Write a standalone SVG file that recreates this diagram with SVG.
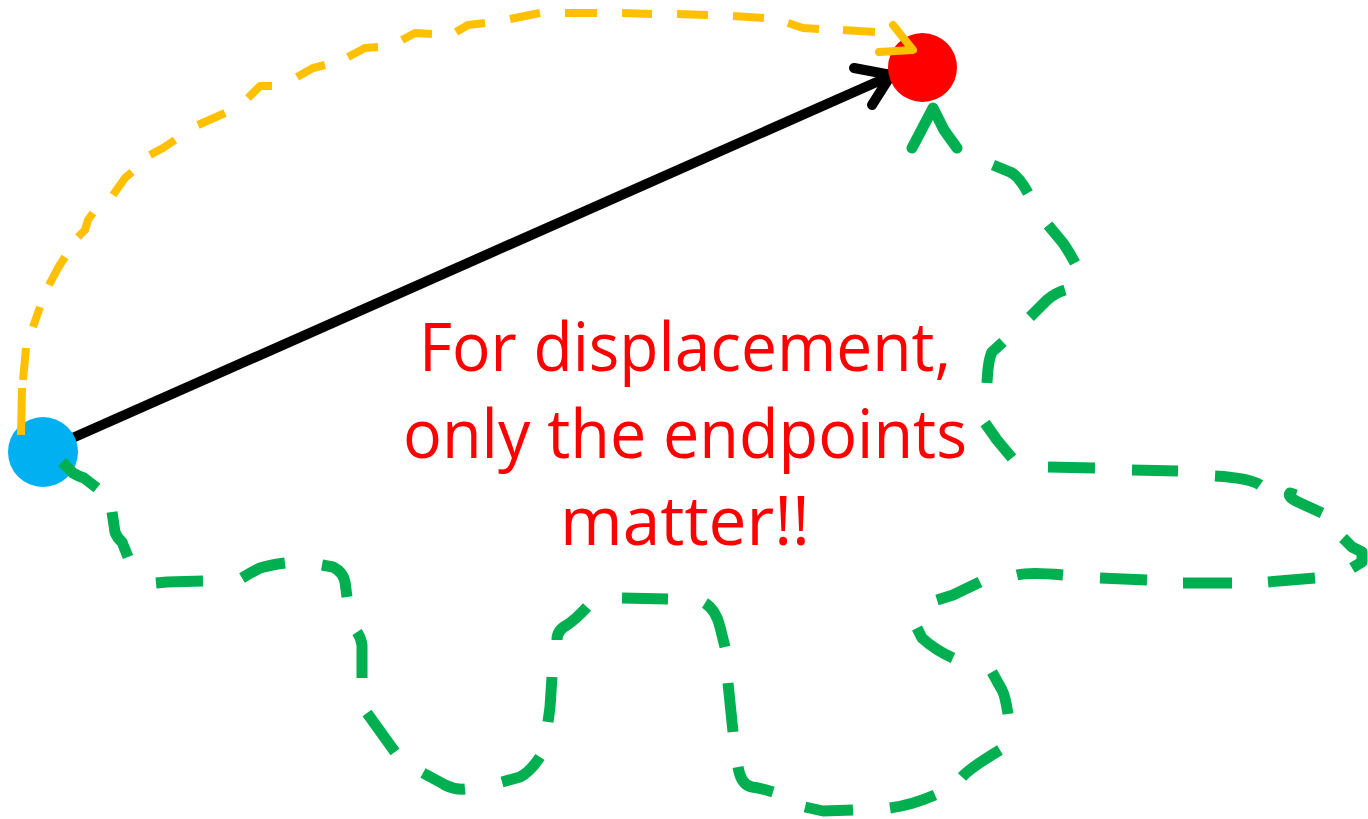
<svg xmlns="http://www.w3.org/2000/svg" width="1368" height="819" viewBox="0 0 1368 819">
<style>
.dash{fill:none;stroke-linecap:butt;stroke-linejoin:round}
.head{fill:none;stroke-linecap:round;stroke-linejoin:round}
.g{stroke:#00B050;stroke-width:11}
.y{stroke:#FFC000;stroke-width:8}
.k{stroke:#000000;stroke-width:10}
.lbl{font-family:"Open Sans","Liberation Sans",sans-serif;font-size:68px;fill:#FF0000;text-anchor:middle}
</style>
<rect width="1368" height="819" fill="#FFFFFF"/>
<g id="connectors">
  <g id="displacement">
    <path class="head k" d="M68,440 L888,77"/>
    <path class="head k" d="M854,68 L891,75 L872,105"/>
  </g>
</g>
<g id="start-node"><circle cx="43" cy="452" r="35" fill="#00B0F0"/></g>
<g id="end-node"><circle cx="922.5" cy="67.5" r="34.5" fill="#FF0000"/></g>
<g id="paths">
  <g id="direct-path">
    <path class="dash y" d="M21,435 L22,388 M23,380 L26,348 M33,327 L40,307 M49,285 L58,268 L65,257 M78,237 L85,230 L88,220 L93,213 M113,195 L125,178 L132,172 M150,155 L163,148 L175,140 M198,125 L225,113 M248,98 L260,86 L272,86 M297,77 L313,68 L325,65 M348,57 L365,48 L378,47 M402,40 L415,33 L432,34 M456,32 L468,25 L485,23 M510,19 L540,13 M565,13 L597,13 M622,13 L652,14 M677,14 L708,15 M733,16 L764,18 M788,23 L803,28 L819,29 M843,30 L875,32"/>
    <path class="head y" d="M893,25 L913,50 L879,52"/>
  </g>
  <g id="winding-path">
    <path class="dash g" d="M62,462 L73,473 Q78,476 84,478 L97,488 M112,512 L115,532 Q117,538 122,542 L128,557 M156,583 L167,582 L203,581 M242,578 Q252,572 260,568 Q270,565 285,563 M322,565 L333,567 Q343,572 345,582 L347,597 M357,632 Q361,638 362,645 L362,678 M367,713 L395,752 M423,773 Q440,782 445,785 Q455,790 465,789 M502,782 L520,777 Q530,772 540,757 M548,722 L550,707 L552,677 M557,640 Q557,630 567,625 Q575,620 587,607 M622,598 L668,599 M705,603 Q716,610 720,627 L725,647 M728,683 L733,732 M738,767 Q741,785 752,787 Q760,788 773,792 M805,807 L823,811 L853,810 M890,808 Q912,805 935,795 M962,777 Q970,768 1000,750 M1008,714 Q1005,695 1002,690 L992,672 M953,658 Q935,650 922,638 L917,628 M937,600 L953,595 L980,582 M1017,575 Q1030,572 1063,575 M1100,578 L1147,580 M1183,583 L1232,583 M1268,582 L1315,578 M1352,568 L1362,562 L1362,552 L1352,547 L1343,538 M1322,513 L1298,502 Q1287,497 1290,493 L1296,495 M1260,485 Q1250,478 1215,476 M1178,471 L1132,470 M1095,468 L1048,467 M1012,458 L997,440 L985,423 M987,383 Q988,360 992,352 L1003,342 M1030,317 L1047,300 Q1055,293 1065,290 M1075,263 Q1068,250 1063,243 L1048,225 M1028,193 Q1018,175 1010,172 L993,165"/>
    <path class="head g" d="M912,148 L933,108 L944,130 L957,148"/>
  </g>
</g>
<g id="caption">
  <text class="lbl" x="685" y="371" textLength="532" lengthAdjust="spacingAndGlyphs">For displacement,</text>
  <text class="lbl" x="685" y="458" textLength="564" lengthAdjust="spacingAndGlyphs">only the endpoints</text>
  <text class="lbl" x="685" y="545" textLength="250" lengthAdjust="spacingAndGlyphs">matter!!</text>
</g>
</svg>
